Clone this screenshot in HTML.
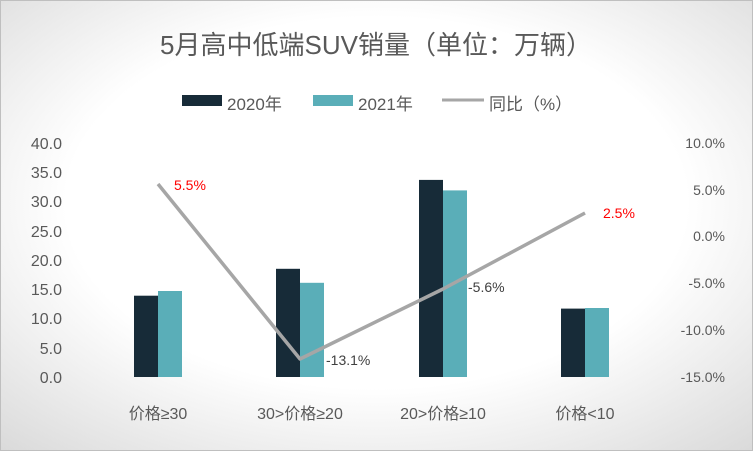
<!DOCTYPE html>
<html><head><meta charset="utf-8"><style>
html,body{margin:0;padding:0}
body{width:753px;height:451px;overflow:hidden;font-family:"Liberation Sans","Noto Sans CJK SC",sans-serif}
</style></head><body>
<svg width="753" height="451" xmlns="http://www.w3.org/2000/svg" font-family="Liberation Sans, Noto Sans CJK SC, sans-serif">
<defs><radialGradient id="g" cx="50%" cy="45%" r="75%"><stop offset="0.55" stop-color="#ffffff"/><stop offset="1" stop-color="#d9d9d9"/></radialGradient></defs>
<rect x="0.5" y="0.5" width="752" height="450" fill="url(#g)" stroke="#bfbfbf"/>
<text x="376" y="54" text-anchor="middle" font-size="26" fill="#595959">5月高中低端SUV销量（单位：万辆）</text>
<rect x="182" y="95" width="40" height="11" fill="#172b38"/>
<text x="227" y="110" font-size="17" fill="#595959">2020年</text>
<rect x="313" y="95" width="40" height="11" fill="#5aaeb8"/>
<text x="358" y="110" font-size="17" fill="#595959">2021年</text>
<line x1="442" y1="100" x2="484" y2="100" stroke="#a6a6a6" stroke-width="3"/>
<text x="489" y="110" font-size="17" fill="#595959">同比（%）</text>
<g font-size="16" fill="#595959" text-anchor="end">
<text x="62" y="149">40.0</text><text x="62" y="178">35.0</text><text x="62" y="207">30.0</text><text x="62" y="237">25.0</text><text x="62" y="266">20.0</text><text x="62" y="295">15.0</text><text x="62" y="324">10.0</text><text x="62" y="354">5.0</text><text x="62" y="383">0.0</text>
</g>
<g font-size="14" fill="#595959" text-anchor="end">
<text x="725" y="148">10.0%</text><text x="725" y="195">5.0%</text><text x="725" y="241">0.0%</text><text x="725" y="288">-5.0%</text><text x="725" y="335">-10.0%</text><text x="725" y="382">-15.0%</text>
</g>
<g fill="#172b38">
<rect x="134" y="295.7" width="24" height="81.3"/>
<rect x="276" y="268.8" width="24" height="108.2"/>
<rect x="419" y="179.9" width="24" height="197.1"/>
<rect x="561" y="308.6" width="24" height="68.4"/>
</g>
<g fill="#5aaeb8">
<rect x="158" y="291" width="24" height="86"/>
<rect x="300" y="282.8" width="24" height="94.2"/>
<rect x="443" y="190.4" width="24" height="186.6"/>
<rect x="585" y="308" width="24" height="69"/>
</g>
<polyline points="158,184 300,359 443,289 585,213" fill="none" stroke="#a6a6a6" stroke-width="3.5" stroke-linejoin="round"/>
<g font-size="14">
<text x="174" y="190" fill="#ff0000">5.5%</text>
<text x="326" y="365" fill="#404040">-13.1%</text>
<text x="468" y="292" fill="#404040">-5.6%</text>
<text x="603" y="218" fill="#ff0000">2.5%</text>
</g>
<g font-size="16" fill="#595959" text-anchor="middle">
<text x="158" y="419">价格≥30</text>
<text x="300" y="419">30&gt;价格≥20</text>
<text x="443" y="419">20&gt;价格≥10</text>
<text x="585" y="419">价格&lt;10</text>
</g>
</svg>
</body></html>
